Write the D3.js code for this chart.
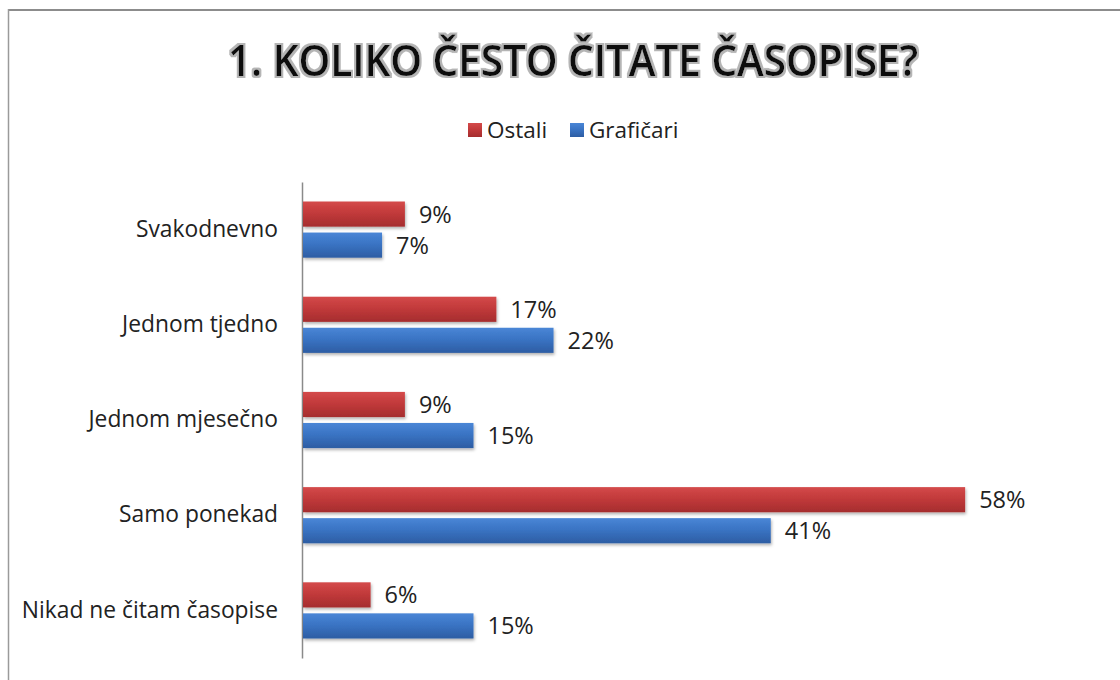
<!DOCTYPE html>
<html>
<head>
<meta charset="utf-8">
<script src="https://cdn.jsdelivr.net/npm/d3@7"></script>
<style>
  html, body { margin: 0; padding: 0; background: #fff; }
  svg { display: block; }
</style>
</head>
<body>
<svg id="chart" width="1120" height="680"></svg>
<script>
// Survey answers: "How often do you read magazines?"
const categories = ["Svakodnevno", "Jednom tjedno", "Jednom mjesečno", "Samo ponekad", "Nikad ne čitam časopise"];
const seriesNames = ["Ostali", "Grafičari"];
const ostali = [9, 17, 9, 58, 6];
const graficari = [7, 22, 15, 41, 15];
const titleText = "1. KOLIKO ČESTO ČITATE ČASOPISE?";

const seriesValues = { "Ostali": ostali, "Grafičari": graficari };
const colors = { "Ostali": ["#d44a4a", "#c23a3b", "#a52d2e"], "Grafičari": ["#4a86d6", "#3a74c4", "#2d5da3"] };

const svg = d3.select("#chart");
const W = 1120, H = 680;
const font = "'Open Sans', 'Noto Sans', sans-serif";

svg.append("rect").attr("width", W).attr("height", H).attr("fill", "#fff");

// Frame lines (top and left edges)
svg.append("line").attr("x1", 8).attr("x2", W).attr("y1", 10).attr("y2", 10)
  .attr("stroke", "#8c8c8c").attr("stroke-width", 2);
svg.append("line").attr("x1", 8.5).attr("x2", 8.5).attr("y1", 9).attr("y2", H)
  .attr("stroke", "#9a9a9a").attr("stroke-width", 1.5);

const defs = svg.append("defs");
seriesNames.forEach((s, i) => {
  const g = defs.append("linearGradient").attr("id", "grad" + i)
    .attr("x1", 0).attr("x2", 0).attr("y1", 0).attr("y2", 1);
  g.append("stop").attr("offset", "0%").attr("stop-color", colors[s][0]);
  g.append("stop").attr("offset", "45%").attr("stop-color", colors[s][1]);
  g.append("stop").attr("offset", "100%").attr("stop-color", colors[s][2]);
});
const shadow = defs.append("filter").attr("id", "barShadow")
  .attr("x", "-5%").attr("y", "-20%").attr("width", "115%").attr("height", "160%");
shadow.append("feDropShadow").attr("dx", 1).attr("dy", 2).attr("stdDeviation", 1.6)
  .attr("flood-color", "#000").attr("flood-opacity", 0.3);

const titleGlow = defs.append("filter").attr("id", "titleGlow")
  .attr("x", "-5%").attr("y", "-30%").attr("width", "110%").attr("height", "160%");
titleGlow.append("feMorphology").attr("in", "SourceAlpha").attr("operator", "dilate").attr("radius", 1.5).attr("result", "d");
titleGlow.append("feFlood").attr("flood-color", "#b5b5b5");
titleGlow.append("feComposite").attr("in2", "d").attr("operator", "in").attr("result", "halo");
const tm = titleGlow.append("feMerge");
tm.append("feMergeNode").attr("in", "halo");
tm.append("feMergeNode").attr("in", "SourceGraphic");

// Title
svg.append("text")
  .attr("x", 573).attr("y", 76)
  .attr("text-anchor", "middle")
  .attr("font-family", font).attr("font-weight", 600).attr("font-size", 43)
  .attr("textLength", 690).attr("lengthAdjust", "spacingAndGlyphs")
  .attr("fill", "#111")
  .attr("filter", "url(#titleGlow)")
  .text(titleText);

// Legend
const legend = svg.append("g").attr("transform", "translate(468,130)");
const legendX = [0, 102];
seriesNames.forEach((s, i) => {
  const g = legend.append("g").attr("transform", `translate(${legendX[i]},0)`);
  g.append("rect").attr("x", 0).attr("y", -7).attr("width", 14).attr("height", 14)
    .attr("fill", `url(#grad${i})`);
  g.append("text").attr("x", 19).attr("y", 0).attr("dy", "0.35em")
    .attr("font-family", font).attr("font-size", 22.5).attr("fill", "#222")
    .text(s);
});

// Scales
const x = d3.scaleLinear().domain([0, 60]).range([302, 988]);
const y0 = d3.scaleBand().domain(categories).range([182, 658])
  .paddingInner(0.41).paddingOuter(0.205);
const y1 = d3.scaleBand().domain(seriesNames).range([0, y0.bandwidth()]).paddingInner(0.19);

// Category axis
const axis = svg.append("g").attr("transform", "translate(302,0)")
  .call(d3.axisLeft(y0).tickSize(0).tickPadding(24));
axis.select(".domain").attr("stroke", "#8a8a8a").attr("stroke-width", 1.5);
axis.selectAll("text").attr("font-family", font).attr("font-size", 22.8).attr("fill", "#222");

// Bars and value labels
const rows = categories.map((c, i) => ({ c, vals: seriesNames.map(s => ({ s, v: seriesValues[s][i] })) }));
const groups = svg.append("g").selectAll("g").data(rows).join("g")
  .attr("transform", d => `translate(0,${y0(d.c)})`);

groups.selectAll("rect").data(d => d.vals).join("rect")
  .attr("x", x(0) + 1)
  .attr("y", d => y1(d.s))
  .attr("width", d => x(d.v) - x(0) - 1)
  .attr("height", y1.bandwidth())
  .attr("fill", d => `url(#grad${seriesNames.indexOf(d.s)})`)
  .attr("filter", "url(#barShadow)");

groups.selectAll("text").data(d => d.vals).join("text")
  .attr("x", d => x(d.v) + 14)
  .attr("y", d => y1(d.s) + y1.bandwidth() / 2)
  .attr("dy", "0.36em")
  .attr("font-family", font).attr("font-size", 23.5).attr("fill", "#222")
  .text(d => d.v + "%");
</script>
</body>
</html>
